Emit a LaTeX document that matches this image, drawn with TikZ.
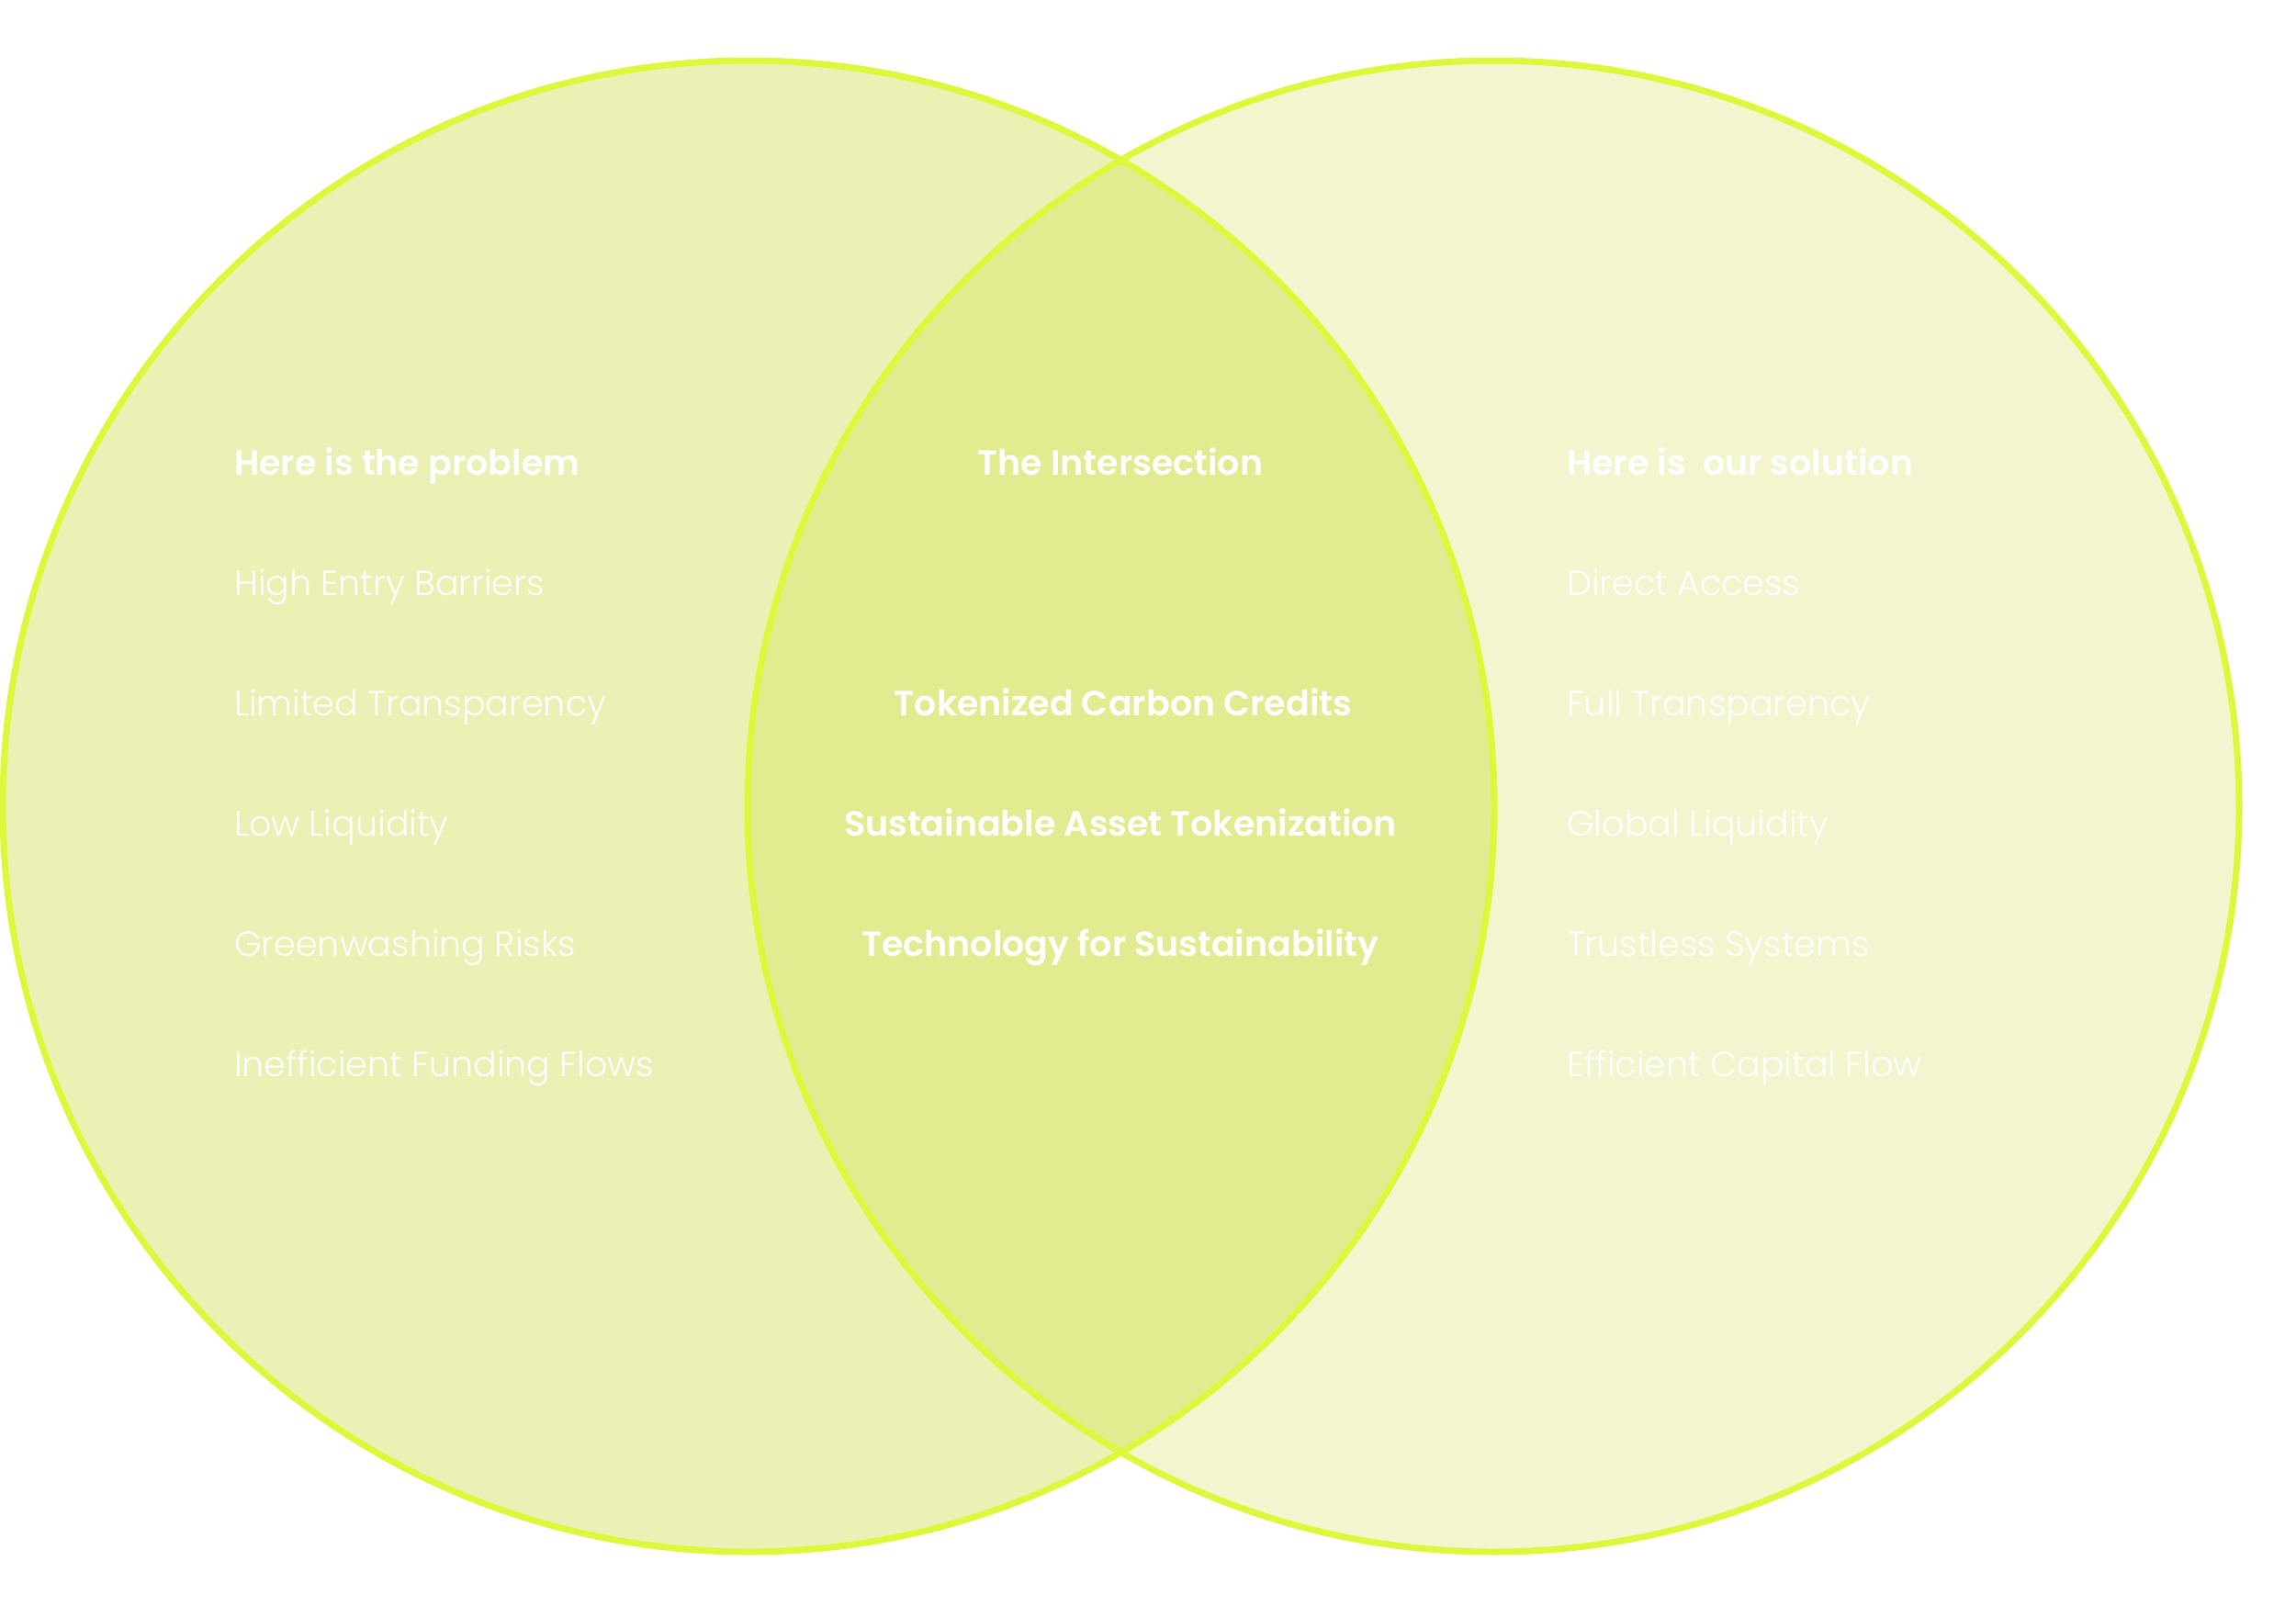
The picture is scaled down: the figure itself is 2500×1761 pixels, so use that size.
\documentclass[tikz,border=0pt]{standalone}
\usepackage{fontspec}
\setmainfont{Poppins}
\newfontfamily\plight{Poppins Light}
\newfontfamily\pbold{Poppins SemiBold}
\definecolor{leftfill}{RGB}{235,240,180}
\definecolor{rightfill}{RGB}{242,245,206}
\definecolor{midfill}{RGB}{227,235,145}
\definecolor{rim}{RGB}{221,247,58}
\tikzset{
  circ/.style={line width=7pt, draw=rim},
  item/.style={text=white, font=\plight\fontsize{38}{40}\selectfont, inner sep=0pt},
  head/.style={text=white, font=\pbold\fontsize{38}{40}\selectfont, inner sep=0pt},
}
\begin{document}
\begin{tikzpicture}[x=1pt,y=-1pt]
\useasboundingbox (0,0) rectangle (2500,1761);
\coordinate (cl) at (815,878);
\coordinate (cr) at (1626,878);
\fill[leftfill] (cl) circle (812);
\fill[rightfill] (cr) circle (812);
\begin{scope}
  \clip (cl) circle (812);
  \fill[midfill] (cr) circle (812);
\end{scope}
\draw[circ] (cl) circle (812);
\draw[circ] (cr) circle (812);
% left
\node[head, anchor=base west] (lh) at (255,517) {Here is the problem};
\node[item, anchor=base west] (l1) at (255,648) {High Entry Barriers};
\node[item, anchor=base west] (l2) at (255,779) {Limited Transparency};
\node[item, anchor=base west] (l3) at (255,910) {Low Liquidity};
\node[item, anchor=base west] (l4) at (255,1041) {Greenwashing Risks};
\node[item, anchor=base west] (l5) at (255,1172) {Inefficient Funding Flows};
% middle
\node[head, anchor=base] (mh) at (1220,517) {The Intersection};
\node[head, anchor=base] (m1) at (1223,779) {Tokenized Carbon Credits};
\node[head, anchor=base] (m2) at (1220,910) {Sustainable Asset Tokenization};
\node[head, anchor=base] (m3) at (1220,1041) {Technology for Sustainability};
% right
\node[head, anchor=base west] (rh) at (1706,517) {Here is \ our solution};
\node[item, anchor=base west] (r1) at (1706,648) {Direct Access};
\node[item, anchor=base west] (r2) at (1706,779) {Full Transparency};
\node[item, anchor=base west] (r3) at (1706,910) {Global Liquidity};
\node[item, anchor=base west] (r4) at (1706,1041) {Trustless Systems};
\node[item, anchor=base west] (r5) at (1706,1172) {Efficient Capital Flow};
\end{tikzpicture}
\end{document}
